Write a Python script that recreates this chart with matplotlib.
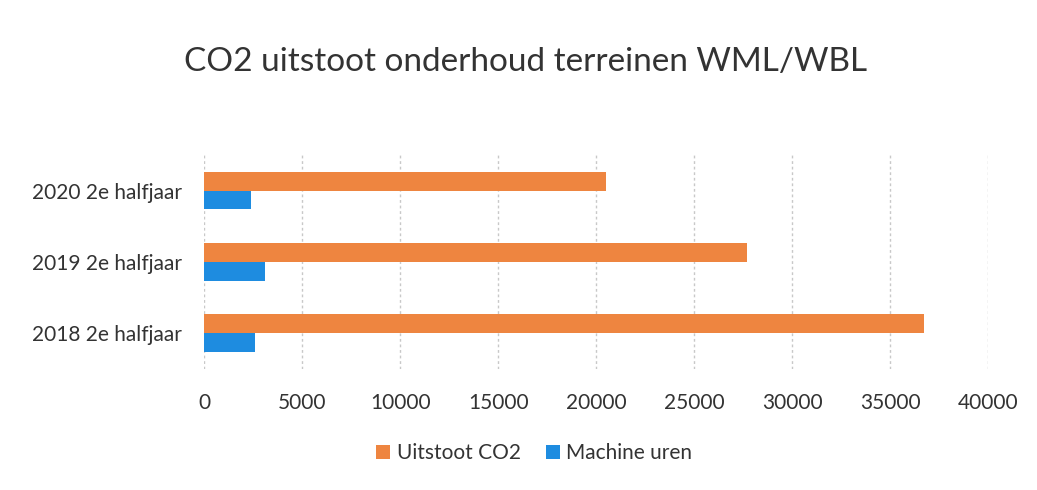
import matplotlib
matplotlib.use("Agg")
import matplotlib.pyplot as plt
import numpy as np

categories = ["2018 2e halfjaar", "2019 2e halfjaar", "2020 2e halfjaar"]
uitstoot_co2 = [36700, 27700, 20500]
machine_uren = [2600, 3100, 2400]
xticks = [0, 5000, 10000, 15000, 20000, 25000, 30000, 35000, 40000]

plt.rcParams['font.family'] = ['Lato', 'DejaVu Sans']

fig = plt.figure(figsize=(10.37, 4.90), dpi=100)
ax = fig.add_axes([0.197, 0.247, 0.756, 0.437])

y = np.arange(len(categories))
h = 0.265
ax.barh(y + h / 2, uitstoot_co2, height=h, color="#EE8540", label="Uitstoot CO2")
ax.barh(y - h / 2, machine_uren, height=h, color="#1E8CE0", label="Machine uren")

ax.set_xlim(0, 40000)
ax.set_ylim(-0.5, 2.5)
ax.set_xticks(xticks)
ax.set_xticklabels([str(t) for t in xticks])
ax.set_yticks(y)
ax.set_yticklabels(categories)
ax.tick_params(axis='both', length=0, labelsize=15, colors="#333333")
ax.tick_params(axis='x', pad=17)
ax.tick_params(axis='y', pad=16)
ax.grid(axis='x', color="#C8C8C8", linewidth=1, linestyle=(0, (2, 2)))
ax.set_axisbelow(True)
for s in ax.spines.values():
    s.set_visible(False)

fig.suptitle("CO2 uitstoot onderhoud terreinen WML/WBL", fontsize=24, x=0.507, y=0.905, color="#333333")

fig.legend(loc="center", bbox_to_anchor=(0.515, 0.075), ncol=2, frameon=False,
           fontsize=15, handlelength=0.7, handleheight=0.7, handletextpad=0.3,
           columnspacing=1.2, labelcolor="#333333")

fig.savefig("out.png", dpi=100)
